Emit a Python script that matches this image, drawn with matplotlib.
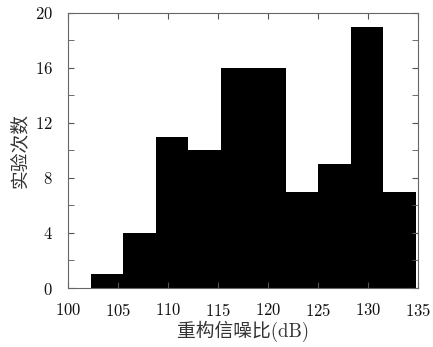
import matplotlib
matplotlib.use('Agg')
import matplotlib.pyplot as plt
import numpy as np
from matplotlib.ticker import MultipleLocator

# histogram
bin_edges = [102.3, 105.5, 108.8, 112.0, 115.3, 118.5, 121.8, 125.0, 128.3, 131.5, 134.8]
counts = [1, 4, 11, 10, 16, 16, 7, 9, 19, 7]

x_label = '重构信噪比(dB)'
y_label = '实验次数'

plt.rcParams['font.family'] = ['cmr10', 'Noto Sans CJK SC']
plt.rcParams['axes.formatter.use_mathtext'] = True

fig = plt.figure(figsize=(4.33, 3.47), dpi=100)
ax = fig.add_axes([0.157, 0.170, 0.808, 0.793])

# one filled outline, so no seams between neighbouring bins
ax.stairs(counts, bin_edges, fill=True, color='black', linewidth=0)

ax.set_xlim(100, 135)
ax.set_ylim(0, 20)
ax.xaxis.set_major_locator(MultipleLocator(5))
ax.yaxis.set_major_locator(MultipleLocator(4))
ax.yaxis.set_minor_locator(MultipleLocator(2))
ax.tick_params(which='both', direction='in', top=True, right=True,
               color='#555555', labelsize=12, labelcolor='#111111')
ax.tick_params(axis='x', pad=10)
ax.tick_params(axis='y', pad=11)
ax.tick_params(which='major', length=4)
ax.tick_params(which='minor', length=4)
for s in ax.spines.values():
    s.set_color('#666666')
    s.set_linewidth(0.8)

ax.set_xlabel(x_label, fontsize=13.5, color='#333333', labelpad=1)
ax.set_ylabel(y_label, fontsize=13.5, color='#333333', labelpad=4)

fig.savefig('out.png', dpi=100)
